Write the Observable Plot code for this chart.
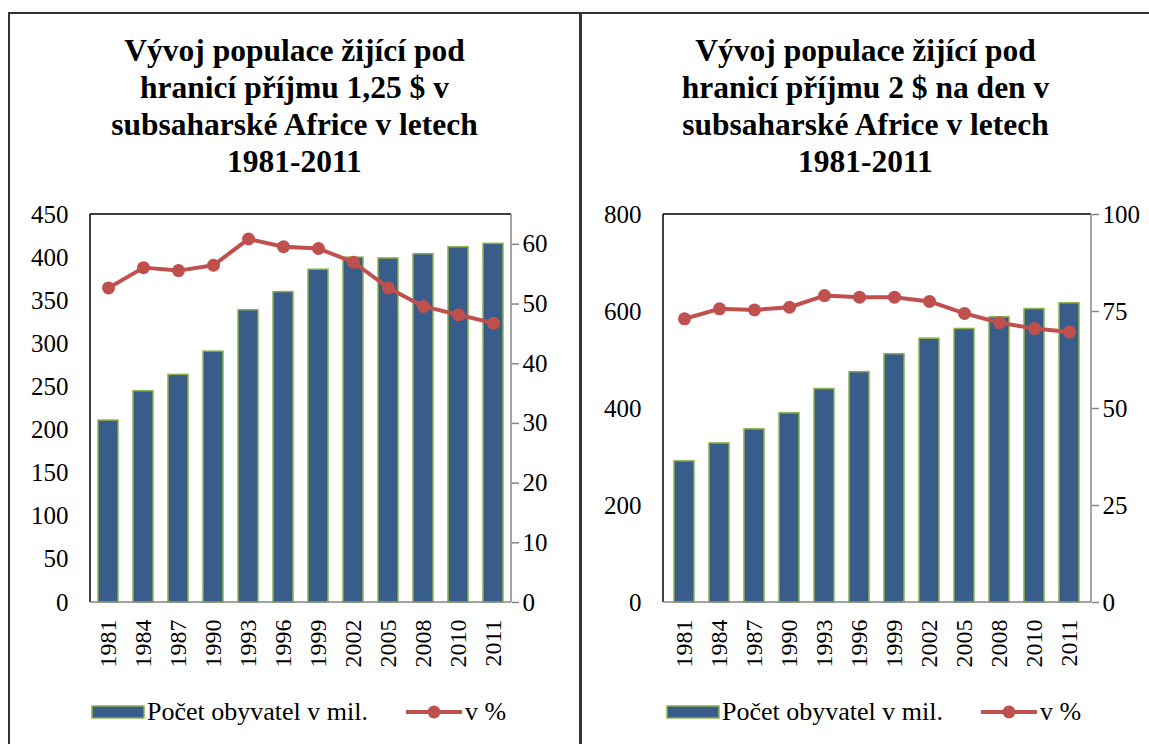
<!DOCTYPE html>
<html>
<head>
<meta charset="utf-8">
<script src="https://cdn.jsdelivr.net/npm/d3@7"></script>
<script src="https://cdn.jsdelivr.net/npm/@observablehq/plot@0.6"></script>
<style>
  html, body { margin: 0; padding: 0; background: #fff; }
  body { width: 1149px; height: 744px; position: relative; overflow: hidden; font-family: "Liberation Serif", "Times New Roman", serif; }
  .border { position: absolute; background: #333; }
  .title { position: absolute; text-align: center; font-weight: bold; font-size: 31.5px; line-height: 37px; color: #000; }
  .chart { position: absolute; top: 200px; }
  .leg { position: absolute; font-size: 26px; line-height: 26px; color: #000; white-space: nowrap; }
  .sw { position: absolute; }
</style>
</head>
<body>
<div class="border" style="left:8px;top:12px;width:1141px;height:2px"></div>
<div class="border" style="left:8px;top:12px;width:2px;height:732px"></div>
<div class="border" style="left:579px;top:12px;width:3px;height:732px"></div>

<div class="title" style="left:10px;width:569px;top:32px">Vývoj populace žijící pod<br>hranicí příjmu 1,25 $ v<br>subsaharské Africe v letech<br>1981-2011</div>
<div class="title" style="left:582px;width:567px;top:32px">Vývoj populace žijící pod<br>hranicí příjmu 2 $ na den v<br>subsaharské Africe v letech<br>1981-2011</div>

<div id="c1" class="chart" style="left:0px"></div>
<div id="c2" class="chart" style="left:582px"></div>

<div id="legends"></div>

<script>
const years = ["1981","1984","1987","1990","1993","1996","1999","2002","2005","2008","2010","2011"];
const pop125 = [211, 245, 264, 291, 339, 360, 386, 400, 399, 404, 412, 416];
const pct125 = [52.7, 56.1, 55.6, 56.5, 60.9, 59.6, 59.3, 57.0, 52.7, 49.6, 48.2, 46.8];
const pop2 = [291, 328, 357, 390, 440, 475, 512, 544, 564, 588, 605, 617];
const pct2 = [73.1, 75.7, 75.4, 76.1, 79.1, 78.7, 78.7, 77.6, 74.5, 72.1, 70.6, 69.7];
const leftTicks1 = [0, 50, 100, 150, 200, 250, 300, 350, 400, 450];
const rightTicks1 = [0, 10, 20, 30, 40, 50, 60];
const leftTicks2 = [0, 200, 400, 600, 800];
const rightTicks2 = [0, 25, 50, 75, 100];
const legendLabels = ["Počet obyvatel v mil.", "v %"];

const FONT = "'Liberation Serif', 'Times New Roman', serif";
const BAR = "#385D8A", BAR_STROKE = "#8DB04A", RED = "#C0504D", AXIS = "#868686";

function chart({pop, pct, yMax, rMax, yTicks, rTicks, width, marginLeft, marginRight}) {
  const k = yMax / rMax;
  const data = years.map((year, i) => ({year, pop: pop[i], pct: pct[i]}));
  const frame = (index, scales, values, dims) => {
    const g = d3.create("svg:g");
    const x0 = dims.marginLeft, x1 = dims.width - dims.marginRight;
    const y0 = dims.marginTop, y1 = dims.height - dims.marginBottom;
    g.append("line").attr("x1", x0).attr("x2", x1).attr("y1", y0).attr("y2", y0).attr("stroke", "#000").attr("stroke-width", 1.5);
    g.append("line").attr("x1", x0).attr("x2", x0).attr("y1", y0).attr("y2", y1).attr("stroke", "#000").attr("stroke-width", 1.5);
    g.append("line").attr("x1", x1).attr("x2", x1).attr("y1", y0).attr("y2", y1).attr("stroke", AXIS).attr("stroke-width", 1.5);
    g.append("line").attr("x1", x0).attr("x2", x1).attr("y1", y1).attr("y2", y1).attr("stroke", AXIS).attr("stroke-width", 1.5);
    return g.node();
  };
  return Plot.plot({
    width, height: 480,
    marginTop: 14, marginBottom: 78, marginLeft, marginRight,
    style: {fontFamily: FONT, fontSize: "25px", color: "#000", background: "transparent", overflow: "visible"},
    x: {domain: years, paddingInner: 0.42, paddingOuter: 0.21, label: null},
    y: {domain: [0, yMax], label: null},
    marks: [
      Plot.barY(data, {x: "year", y: "pop", fill: BAR, stroke: BAR_STROKE, strokeWidth: 1.5}),
      frame,
      Plot.line(data, {x: "year", y: d => d.pct * k, stroke: RED, strokeWidth: 4}),
      Plot.dot(data, {x: "year", y: d => d.pct * k, r: 6.5, fill: RED}),
      Plot.axisY(yTicks, {anchor: "left", tickSize: 0, tickPadding: 22, fill: "#000"}),
      Plot.axisY(rTicks.map(v => v * k), {anchor: "right", tickSize: 7, tickPadding: 4, stroke: AXIS, strokeWidth: 1.5, fill: "#000", tickFormat: d => String(Math.round(d / k))}),
      Plot.axisX({anchor: "bottom", tickRotate: -90, tickSize: 0, tickPadding: 17, fontSize: 24, fill: "#000"})
    ]
  });
}

document.getElementById("c1").append(chart({pop: pop125, pct: pct125, yMax: 450, rMax: 65, yTicks: leftTicks1, rTicks: rightTicks1, width: 580, marginLeft: 90, marginRight: 69}));
document.getElementById("c2").append(chart({pop: pop2, pct: pct2, yMax: 800, rMax: 100, yTicks: leftTicks2, rTicks: rightTicks2, width: 567, marginLeft: 81, marginRight: 58}));

function legend(x0) {
  const L = document.getElementById("legends");
  const sw1 = document.createElementNS("http://www.w3.org/2000/svg", "svg");
  sw1.setAttribute("class", "sw"); sw1.setAttribute("width", 54); sw1.setAttribute("height", 16);
  sw1.style.left = (x0) + "px"; sw1.style.top = "704px";
  sw1.innerHTML = `<rect x="1" y="2" width="52" height="12" fill="${BAR}" stroke="${BAR_STROKE}" stroke-width="1.5"/>`;
  L.append(sw1);
  const t1 = document.createElement("div"); t1.className = "leg"; t1.textContent = legendLabels[0];
  t1.style.left = (x0 + 56) + "px"; t1.style.top = "699px"; L.append(t1);
  const sw2 = document.createElementNS("http://www.w3.org/2000/svg", "svg");
  sw2.setAttribute("class", "sw"); sw2.setAttribute("width", 56); sw2.setAttribute("height", 16);
  sw2.style.left = (x0 + 315) + "px"; sw2.style.top = "704px";
  sw2.innerHTML = `<line x1="0" x2="56" y1="8" y2="8" stroke="${RED}" stroke-width="4"/><circle cx="28" cy="8" r="6.5" fill="${RED}"/>`;
  L.append(sw2);
  const t2 = document.createElement("div"); t2.className = "leg"; t2.textContent = legendLabels[1];
  t2.style.left = (x0 + 374) + "px"; t2.style.top = "699px"; L.append(t2);
}
legend(91);
legend(666);
</script>
</body>
</html>
